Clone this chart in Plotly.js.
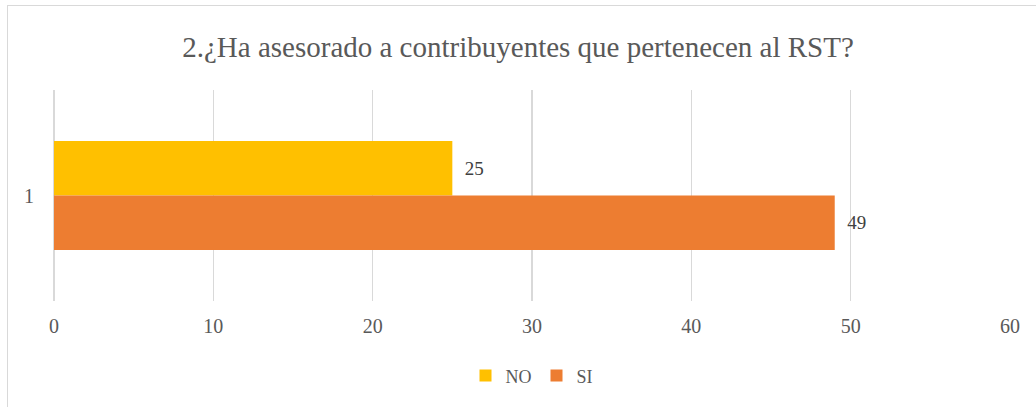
<!DOCTYPE html>
<html>
<head>
<meta charset="utf-8">
<script src="https://cdn.plot.ly/plotly-3.0.1.min.js"></script>
<style>
html,body{margin:0;padding:0;background:#fff;overflow:hidden;}
#frame{position:absolute;left:7px;top:5px;width:1040px;height:420px;border:1.5px solid #d9d9d9;box-sizing:border-box;}
#chart{position:absolute;left:0;top:0;width:1036px;height:407px;}
</style>
</head>
<body>
<div id="frame"></div>
<div id="chart"></div>
<script>
const categories = ["1"];
const seriesNames = ["NO", "SI"];
const valuesNO = [25];
const valuesSI = [49];
const xTicks = [0, 10, 20, 30, 40, 50, 60];
const titleText = "2.¿Ha asesorado a contribuyentes que pertenecen al RST?";

const font = "Liberation Serif";
const gray = "#595959";
const pad = "\u00a0\u00a0";

const traces = [
  {type:"bar", orientation:"h", name:seriesNames[0], y:categories, x:valuesNO,
   marker:{color:"#FFC000"}, text:valuesNO.map(v => pad + v), textposition:"outside",
   cliponaxis:false, textfont:{family:font,size:19,color:"#404040"}, hoverinfo:"none"},
  {type:"bar", orientation:"h", name:seriesNames[1], y:categories, x:valuesSI,
   marker:{color:"#ED7D31"}, text:valuesSI.map(v => pad + v), textposition:"outside",
   cliponaxis:false, textfont:{family:font,size:19,color:"#404040"}, hoverinfo:"none"}
];

const layout = {
  width:1036, height:407,
  margin:{l:54, r:26, t:90, b:104},
  font:{family:font},
  paper_bgcolor:"rgba(0,0,0,0)", plot_bgcolor:"rgba(0,0,0,0)",
  barmode:"group", bargap:0.483, bargroupgap:0,
  title:{text:titleText, font:{family:font,size:29,color:gray}, x:0.5, xanchor:"center", y:0.885, yanchor:"middle"},
  xaxis:{range:[0,60], tickvals:xTicks, ticktext:xTicks.map(String), showgrid:true, gridcolor:"#d9d9d9", gridwidth:1.5,
         zeroline:true, zerolinecolor:"#d9d9d9", zerolinewidth:1.5, showline:false, ticks:"",
         tickfont:{family:font,size:20,color:gray}, ticklabelstandoff:11, fixedrange:true},
  yaxis:{autorange:"reversed", showgrid:false, zeroline:false, showline:false, ticks:"",
         tickfont:{family:font,size:20,color:gray}, ticklabelstandoff:19, fixedrange:true},
  showlegend:true,
  legend:{orientation:"h", x:0.5, xanchor:"center", y:-0.355, yanchor:"middle",
          font:{family:font,size:18,color:gray}, itemwidth:30, traceorder:"normal"}
};

Plotly.newPlot("chart", traces, layout, {displayModeBar:false, staticPlot:true});
</script>
</body>
</html>
